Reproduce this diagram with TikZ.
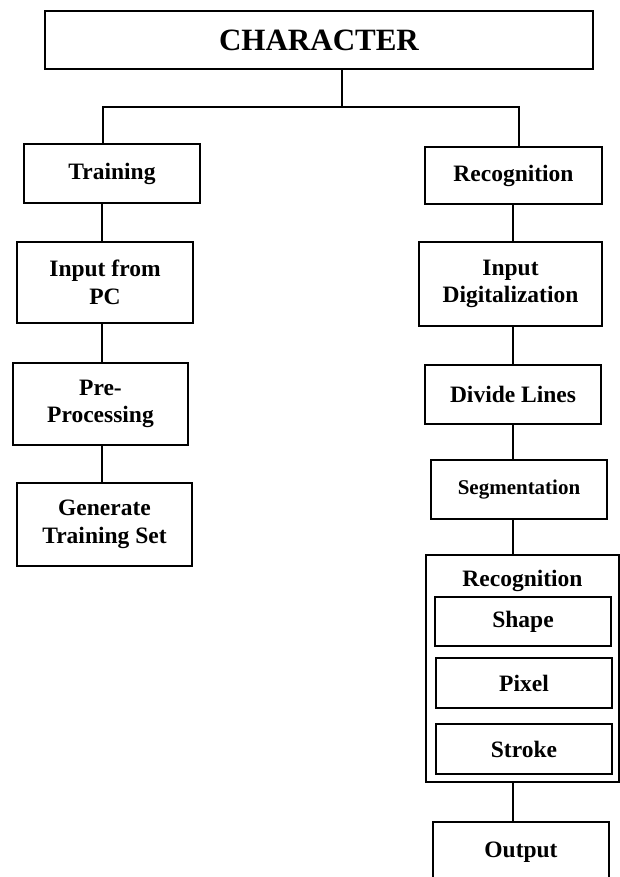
\documentclass[tikz,border=0pt]{standalone}
\usepackage{fontspec}
\setmainfont{Liberation Serif}
\usepackage{tikz}
\usetikzlibrary{positioning}
\newcommand{\boxfont}{\fontsize{23.5}{27.5}\selectfont\bfseries}

\begin{document}
\begin{tikzpicture}[x=1pt, y=-1pt,
    box/.style={draw, line width=1.3pt, minimum width=176pt, minimum height=59pt, align=center, inner sep=0pt, font=\boxfont},
    link/.style={line width=1.3pt}
]
\clip (0,0) rectangle (620,877);

% Top
\node[box, minimum width=548pt, minimum height=58pt, font=\fontsize{31}{36}\selectfont\bfseries] (char) at (319,40) {CHARACTER};

% Training side
\node[box] (train) at (112,173.5) {Training};
\node[box, minimum height=81pt] (pcin) at (105,282.5) {Input from\\PC};
\node[box, minimum width=175pt, minimum height=82pt] (prep) at (100.5,404) {Pre-\\Processing};
\node[box, minimum width=175pt, minimum height=83pt] (gen) at (104.5,524.5) {Generate\\Training Set};

% Recognition side
\node[box, minimum width=177pt, minimum height=57pt] (recog) at (513.5,175.5) {Recognition};
\node[box, minimum width=183pt, minimum height=84pt] (digit) at (510.5,284) {Input\\Digitalization};
\node[box] (lines) at (513,394.5) {Divide Lines};
\node[box, font=\fontsize{21}{25}\selectfont\bfseries] (seg) at (519,489.5) {Segmentation};

\node[box, minimum width=193pt, minimum height=227pt] (outer) at (522.5,668.5) {};
\node[font=\boxfont] (method) at (522.5,581) {Recognition};
\node[box, minimum height=49pt] (shape) at (523,621.5) {Shape};
\node[box, minimum height=50pt] (pixel) at (524,683) {Pixel};
\node[box, minimum height=50pt] (stroke) at (524,749) {Stroke};

\node[box, minimum height=60pt] (output) at (521,852) {Output};

% Spines
\coordinate (split) at (342,107);
\coordinate (lspine) at (102,0);
\coordinate (rspine) at (513,0);

% Links
\draw[link] (char.south -| split) -- (split);
\draw[link] (train.north -| 103,0) |- (split) -| (recog.north -| 519,0);
\draw[link] (train.south -| lspine) -- (pcin.north -| lspine);
\draw[link] (pcin.south -| lspine) -- (prep.north -| lspine);
\draw[link] (prep.south -| lspine) -- (gen.north -| lspine);
\draw[link] (recog.south -| rspine) -- (digit.north -| rspine);
\draw[link] (digit.south -| rspine) -- (lines.north -| rspine);
\draw[link] (lines.south -| rspine) -- (seg.north -| rspine);
\draw[link] (seg.south -| rspine) -- (outer.north -| rspine);
\draw[link] (outer.south -| rspine) -- (output.north -| rspine);

\end{tikzpicture}
\end{document}
